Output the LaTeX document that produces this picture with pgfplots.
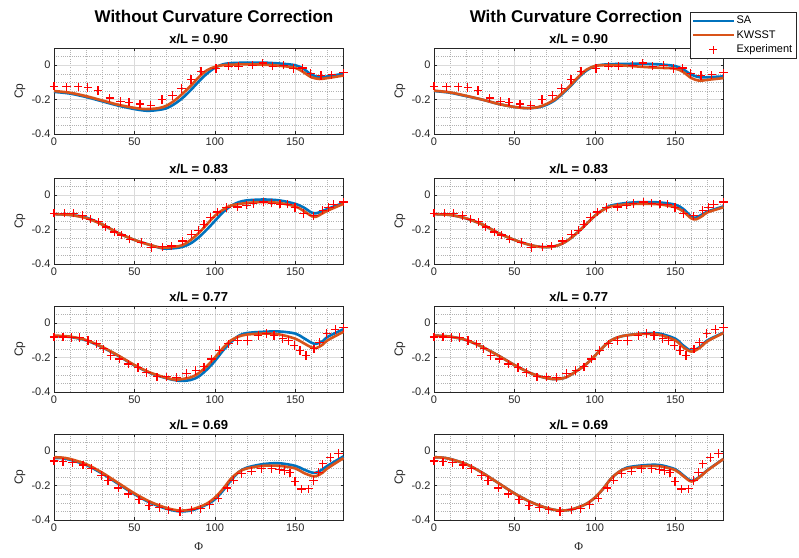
\documentclass[border=0pt]{standalone}
\usepackage{fontspec}
\setmainfont{Liberation Sans}
\newfontfamily\seriffont{Liberation Serif}
\usepackage{pgfplots}
\usepackage{pgfplotstable}
\pgfplotsset{compat=1.18}
\definecolor{sablue}{RGB}{0,114,189}
\definecolor{kworange}{RGB}{217,83,25}
\definecolor{axgray}{RGB}{38,38,38}
\definecolor{expred}{RGB}{255,0,0}

\pgfdeclareplotmark{rplus}{%
  \pgfsetstrokecolor{expred}%
  \pgfsetlinewidth{1.25pt}%
  \pgfpathmoveto{\pgfqpoint{-\pgfplotmarksize}{0pt}}%
  \pgfpathlineto{\pgfqpoint{\pgfplotmarksize}{0pt}}%
  \pgfpathmoveto{\pgfqpoint{0pt}{-\pgfplotmarksize}}%
  \pgfpathlineto{\pgfqpoint{0pt}{\pgfplotmarksize}}%
  \pgfusepathqstroke}

\pgfplotstableread{
x y
0 -0.122
7.7 -0.125
15 -0.125
21 -0.13
27.4 -0.146
34.7 -0.19
41.3 -0.21
46.7 -0.215
53.4 -0.225
60.2 -0.235
67.2 -0.2
73.7 -0.175
79.3 -0.135
85.2 -0.083
91.4 -0.035
100.7 -0.02
108.4 -0.006
114.6 -0.006
123.3 0
129.8 0.013
136 -0.006
142.6 0
148.9 -0.02
154.5 -0.016
159.7 -0.048
166 -0.06
172.7 -0.056
180 -0.044
}\expA

\pgfplotstableread{
x y
0 -0.105
6.6 -0.105
12.2 -0.105
17.6 -0.117
22.6 -0.14
27.8 -0.155
32.2 -0.185
37.4 -0.214
41.9 -0.231
47.1 -0.256
54.4 -0.276
60.6 -0.305
67.5 -0.3
73.1 -0.295
79.9 -0.266
85.5 -0.227
89.7 -0.204
93.2 -0.169
97.4 -0.13
101.5 -0.097
107.3 -0.072
114.2 -0.068
119.8 -0.058
123.9 -0.049
130.2 -0.039
135.4 -0.047
140.5 -0.052
145.1 -0.052
149.9 -0.072
155.1 -0.107
161.3 -0.12
167.1 -0.087
170.6 -0.072
173.8 -0.052
180 -0.039
}\expB

\pgfplotstableread{
x y
0 -0.08
5.6 -0.08
10.8 -0.084
16 -0.084
21.2 -0.1
26.4 -0.12
30.9 -0.149
35.3 -0.188
40.5 -0.208
46.1 -0.237
52.3 -0.257
57.5 -0.286
64.1 -0.312
70 -0.312
76.2 -0.316
82.4 -0.292
88.2 -0.276
93.2 -0.253
98 -0.208
102.8 -0.159
108.4 -0.12
114 -0.1
120.2 -0.1
127 -0.071
132.2 -0.061
136.8 -0.071
142.2 -0.09
145.9 -0.1
149.3 -0.129
153 -0.159
156.7 -0.188
161.7 -0.149
165 -0.11
169.6 -0.061
174.8 -0.037
180 -0.027
}\expC

\pgfplotstableread{
x y
0 -0.057
5.6 -0.061
11.4 -0.067
18.1 -0.08
23.3 -0.1
29.5 -0.141
33.6 -0.171
39.9 -0.214
46.1 -0.249
52.9 -0.282
59.1 -0.316
65.4 -0.327
71.4 -0.341
78.3 -0.351
85.5 -0.341
91.1 -0.335
96.9 -0.312
102.1 -0.273
107.7 -0.214
111.5 -0.169
116.7 -0.131
122.9 -0.116
129.1 -0.102
135.4 -0.102
140.1 -0.106
143.2 -0.112
146.8 -0.125
149.9 -0.175
154 -0.22
158.2 -0.218
161.3 -0.171
164.4 -0.122
167.1 -0.073
171.7 -0.037
176.9 -0.014
}\expD

\pgfplotsset{
  cp/.style={
    scale only axis, width=289.5pt, height=86pt,
    xmin=0, xmax=180, ymin=-0.4, ymax=0.1,
    xtick={0,50,100,150}, xticklabels={0,50,100,150},
    ytick={-0.4,-0.2,0}, yticklabels={-0.4,-0.2,0},
    minor xtick={10,20,30,40,60,70,80,90,110,120,130,140,160,170},
    minor ytick={-0.35,-0.3,-0.25,-0.15,-0.1,-0.05,0.05},
    grid=both,
    major grid style={black!14, line width=0.5pt},
    minor grid style={black!30, dash pattern=on 0.6pt off 1.6pt, line width=0.45pt},
    axis line style={axgray, line width=0.5pt},
    tick style={axgray, line width=0.5pt},
    major tick length=3pt, minor tick length=0pt,
    tick align=inside,
    ticklabel style={font=\fontsize{11}{13}\selectfont, text=axgray},
    ylabel={Cp},
    ylabel style={font=\fontsize{12}{14}\selectfont, text=axgray, at={(axis description cs:-0.118,0.5)}, anchor=center},
    every axis title/.style={font=\bfseries\fontsize{13}{15}\selectfont, text=black, at={(0.5,1)}, anchor=base, yshift=5pt, inner sep=0pt},
    clip=false,
    legend image code/.code={\draw[mark repeat=2,mark phase=2,##1] plot coordinates {(0pt,0pt) (20pt,0pt) (40pt,0pt)};},
  },
  sa/.style={color=sablue, line width=2.6pt, smooth, no marks},
  kw/.style={color=kworange, line width=2.6pt, smooth, no marks},
  ex/.style={color=expred, only marks, mark=rplus, mark size=4.2pt, line width=1.25pt},
  phi/.style={xlabel={{\seriffont Φ}}, xlabel style={font=\fontsize{12}{14}\selectfont, text=axgray, at={(axis description cs:0.5,-0.31)}, anchor=center}},
}

\begin{document}
\begin{tikzpicture}
\path[use as bounding box] (0pt,0pt) rectangle (799pt,-557pt);

\node[anchor=base, font=\bfseries\fontsize{17}{19}\selectfont] at (214pt,-22pt) {Without Curvature Correction};
\node[anchor=base, font=\bfseries\fontsize{17}{19}\selectfont] at (576pt,-22pt) {With Curvature Correction};

% ---------- Row 1: x/L = 0.90 ----------
\begin{axis}[cp, at={(54pt,-48pt)}, anchor=north west, title={x/L = 0.90}]
\addplot[sa] coordinates {(0,-0.155)(10,-0.165)(20,-0.185)(30,-0.21)(40,-0.235)(50,-0.255)(58,-0.265)(65,-0.26)(70,-0.25)(75,-0.225)(80,-0.19)(85,-0.145)(90,-0.095)(95,-0.05)(100,-0.015)(105,0.005)(110,0.012)(120,0.015)(130,0.015)(140,0.01)(150,0.0)(155,-0.02)(160,-0.055)(165,-0.07)(170,-0.065)(180,-0.05)};
\addplot[kw] coordinates {(0,-0.15)(10,-0.16)(20,-0.18)(30,-0.205)(40,-0.23)(50,-0.248)(57,-0.255)(65,-0.25)(70,-0.235)(75,-0.205)(80,-0.165)(85,-0.12)(90,-0.07)(95,-0.03)(100,-0.01)(105,0.0)(110,0.003)(120,0.005)(130,0.003)(140,-0.003)(150,-0.015)(155,-0.04)(160,-0.07)(165,-0.08)(170,-0.075)(180,-0.06)};
\addplot[ex] table[x=x,y=y] {\expA};
\end{axis}

\begin{axis}[cp, at={(434pt,-48pt)}, anchor=north west, title={x/L = 0.90},
  legend style={at={(1.252,1.419)}, anchor=north east, draw=axgray, fill=white, line width=0.5pt,
    font=\fontsize{11}{13}\selectfont, text=black, row sep=1.2pt, inner sep=2pt,
    cells={anchor=west}}]
\addplot[sa] coordinates {(0,-0.15)(10,-0.16)(20,-0.18)(30,-0.2)(40,-0.225)(50,-0.243)(58,-0.25)(65,-0.245)(70,-0.23)(75,-0.205)(80,-0.165)(85,-0.12)(90,-0.07)(95,-0.03)(100,-0.005)(105,0.003)(110,0.006)(120,0.008)(130,0.008)(140,0.005)(150,-0.005)(155,-0.025)(160,-0.055)(165,-0.07)(170,-0.07)(180,-0.065)};
\addlegendentry{SA}
\addplot[kw] coordinates {(0,-0.148)(10,-0.158)(20,-0.178)(30,-0.2)(40,-0.225)(50,-0.243)(58,-0.25)(65,-0.243)(70,-0.225)(75,-0.2)(80,-0.16)(85,-0.115)(90,-0.065)(95,-0.025)(100,-0.005)(105,0.0)(110,0.0)(120,-0.003)(130,-0.01)(140,-0.015)(150,-0.02)(155,-0.04)(160,-0.075)(165,-0.09)(170,-0.085)(180,-0.075)};
\addlegendentry{KWSST}
\addplot[ex] table[x=x,y=y] {\expA};
\addlegendentry{Experiment}
\end{axis}

% ---------- Row 2: x/L = 0.83 ----------
\begin{axis}[cp, at={(54pt,-178pt)}, anchor=north west, title={x/L = 0.83}]
\addplot[sa] coordinates {(0,-0.11)(10,-0.115)(20,-0.13)(30,-0.17)(40,-0.22)(50,-0.26)(60,-0.29)(68,-0.31)(75,-0.308)(80,-0.3)(85,-0.28)(90,-0.245)(95,-0.2)(100,-0.15)(105,-0.1)(110,-0.062)(115,-0.04)(120,-0.03)(130,-0.025)(140,-0.03)(150,-0.05)(155,-0.07)(160,-0.1)(163,-0.105)(167,-0.092)(170,-0.08)(180,-0.045)};
\addplot[kw] coordinates {(0,-0.11)(10,-0.115)(20,-0.133)(30,-0.17)(40,-0.22)(50,-0.26)(60,-0.29)(67,-0.305)(75,-0.3)(80,-0.29)(85,-0.26)(90,-0.22)(95,-0.17)(100,-0.12)(105,-0.085)(110,-0.06)(120,-0.045)(130,-0.04)(140,-0.045)(150,-0.065)(155,-0.09)(160,-0.12)(163,-0.125)(167,-0.105)(170,-0.09)(180,-0.05)};
\addplot[ex] table[x=x,y=y] {\expB};
\end{axis}

\begin{axis}[cp, at={(434pt,-178pt)}, anchor=north west, title={x/L = 0.83}]
\addplot[sa] coordinates {(0,-0.11)(10,-0.115)(20,-0.135)(30,-0.17)(40,-0.22)(50,-0.26)(60,-0.29)(68,-0.302)(75,-0.297)(80,-0.28)(85,-0.25)(90,-0.21)(95,-0.165)(100,-0.12)(105,-0.085)(110,-0.06)(120,-0.045)(130,-0.04)(140,-0.042)(150,-0.055)(155,-0.08)(160,-0.125)(163,-0.13)(167,-0.11)(170,-0.095)(180,-0.065)};
\addplot[kw] coordinates {(0,-0.11)(10,-0.115)(20,-0.135)(30,-0.17)(40,-0.22)(50,-0.26)(60,-0.29)(68,-0.302)(75,-0.297)(80,-0.28)(85,-0.25)(90,-0.21)(95,-0.165)(100,-0.12)(105,-0.087)(110,-0.065)(120,-0.053)(130,-0.05)(140,-0.053)(150,-0.07)(155,-0.095)(160,-0.135)(163,-0.14)(167,-0.12)(170,-0.1)(180,-0.07)};
\addplot[ex] table[x=x,y=y] {\expB};
\end{axis}

% ---------- Row 3: x/L = 0.77 ----------
\begin{axis}[cp, at={(54pt,-306pt)}, anchor=north west, title={x/L = 0.77}]
\addplot[sa] coordinates {(0,-0.075)(10,-0.08)(20,-0.1)(30,-0.14)(40,-0.19)(50,-0.245)(60,-0.29)(70,-0.32)(78,-0.335)(85,-0.33)(90,-0.31)(95,-0.27)(100,-0.22)(105,-0.16)(110,-0.11)(115,-0.072)(120,-0.057)(130,-0.05)(140,-0.048)(150,-0.06)(155,-0.085)(160,-0.113)(163,-0.12)(167,-0.105)(170,-0.08)(180,-0.035)};
\addplot[kw] coordinates {(0,-0.072)(10,-0.078)(20,-0.098)(30,-0.138)(40,-0.188)(50,-0.243)(60,-0.288)(70,-0.318)(76,-0.328)(85,-0.315)(90,-0.29)(95,-0.25)(100,-0.2)(105,-0.145)(110,-0.1)(115,-0.077)(120,-0.066)(130,-0.06)(140,-0.065)(150,-0.09)(155,-0.115)(160,-0.14)(163,-0.145)(167,-0.125)(170,-0.1)(180,-0.05)};
\addplot[ex] table[x=x,y=y] {\expC};
\end{axis}

\begin{axis}[cp, at={(434pt,-306pt)}, anchor=north west, title={x/L = 0.77}]
\addplot[sa] coordinates {(0,-0.072)(10,-0.078)(20,-0.098)(30,-0.138)(40,-0.188)(50,-0.243)(60,-0.29)(68,-0.315)(75,-0.325)(82,-0.315)(90,-0.27)(95,-0.235)(100,-0.19)(105,-0.14)(110,-0.1)(115,-0.08)(120,-0.07)(130,-0.06)(140,-0.06)(150,-0.09)(155,-0.13)(160,-0.16)(165,-0.14)(170,-0.1)(180,-0.055)};
\addplot[kw] coordinates {(0,-0.072)(10,-0.078)(20,-0.098)(30,-0.138)(40,-0.188)(50,-0.243)(60,-0.29)(68,-0.315)(75,-0.325)(82,-0.315)(90,-0.27)(95,-0.235)(100,-0.19)(105,-0.14)(110,-0.1)(115,-0.08)(120,-0.07)(130,-0.062)(140,-0.067)(150,-0.1)(155,-0.14)(160,-0.165)(165,-0.145)(170,-0.105)(180,-0.057)};
\addplot[ex] table[x=x,y=y] {\expC};
\end{axis}

% ---------- Row 4: x/L = 0.69 ----------
\begin{axis}[cp, phi, at={(54pt,-434pt)}, anchor=north west, title={x/L = 0.69}]
\addplot[sa] coordinates {(0,-0.04)(5,-0.04)(10,-0.05)(20,-0.08)(30,-0.13)(40,-0.19)(50,-0.25)(60,-0.3)(70,-0.335)(78,-0.35)(85,-0.345)(90,-0.33)(95,-0.31)(100,-0.28)(105,-0.23)(110,-0.17)(115,-0.12)(120,-0.095)(130,-0.075)(140,-0.07)(150,-0.085)(155,-0.105)(160,-0.123)(163,-0.125)(167,-0.105)(170,-0.085)(180,-0.03)};
\addplot[kw] coordinates {(0,-0.035)(5,-0.037)(10,-0.045)(20,-0.075)(30,-0.125)(40,-0.185)(50,-0.245)(60,-0.295)(70,-0.33)(78,-0.345)(85,-0.34)(90,-0.325)(95,-0.305)(100,-0.27)(105,-0.22)(110,-0.16)(115,-0.12)(120,-0.1)(130,-0.085)(140,-0.085)(150,-0.1)(155,-0.125)(160,-0.143)(163,-0.145)(167,-0.125)(170,-0.1)(180,-0.04)};
\addplot[ex] table[x=x,y=y] {\expD};
\end{axis}

\begin{axis}[cp, phi, at={(434pt,-434pt)}, anchor=north west, title={x/L = 0.69}]
\addplot[sa] coordinates {(0,-0.035)(5,-0.037)(10,-0.045)(20,-0.075)(30,-0.125)(40,-0.185)(50,-0.245)(60,-0.295)(70,-0.33)(78,-0.345)(85,-0.34)(90,-0.325)(95,-0.305)(100,-0.27)(105,-0.22)(110,-0.16)(115,-0.12)(120,-0.095)(130,-0.082)(140,-0.08)(150,-0.105)(155,-0.14)(160,-0.172)(165,-0.15)(170,-0.11)(180,-0.045)};
\addplot[kw] coordinates {(0,-0.035)(5,-0.037)(10,-0.045)(20,-0.075)(30,-0.125)(40,-0.185)(50,-0.245)(60,-0.295)(70,-0.33)(78,-0.345)(85,-0.34)(90,-0.325)(95,-0.305)(100,-0.27)(105,-0.22)(110,-0.16)(115,-0.12)(120,-0.1)(130,-0.088)(140,-0.087)(150,-0.11)(155,-0.145)(160,-0.176)(165,-0.152)(170,-0.112)(180,-0.045)};
\addplot[ex] table[x=x,y=y] {\expD};
\end{axis}
\end{tikzpicture}
\end{document}
